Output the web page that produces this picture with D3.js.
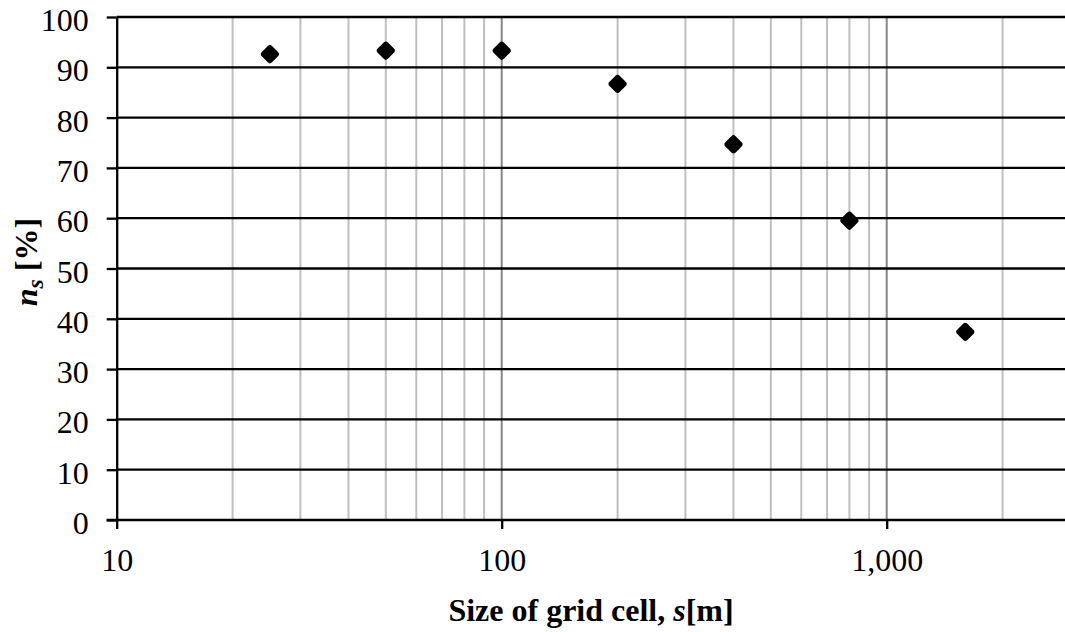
<!DOCTYPE html>
<html>
<head>
<meta charset="utf-8">
<script src="https://cdn.jsdelivr.net/npm/d3@7"></script>
<style>
  html, body { margin: 0; padding: 0; background: #fff; }
  svg { display: block; }
  text { font-family: "Liberation Serif", "Times New Roman", serif; fill: #000; }
</style>
</head>
<body>
<svg id="chart" width="1065" height="632"></svg>
<script>
// Grid cell size (m) and share n_s (%)
const cellSizes = [25, 50, 100, 200, 400, 800, 1600];
const shareValues = [92.6, 93.3, 93.3, 86.7, 74.7, 59.5, 37.4];

const yTicks = [0, 10, 20, 30, 40, 50, 60, 70, 80, 90, 100];
const xLabelTicks = [10, 100, 1000];
const xMajorGrid = [100, 1000];
const xMinorGrid = [20, 30, 40, 50, 60, 70, 80, 90, 200, 300, 400, 500, 600, 700, 800, 900, 2000];

const W = 1065, H = 632;
const plotLeft = 116.7, plotTop = 17, plotBottom = 520;
const decade = 385;

const svg = d3.select("#chart");
svg.append("rect").attr("width", W).attr("height", H).attr("fill", "#fff");

const x = d3.scaleLog()
  .domain([10, 3000])
  .range([plotLeft, plotLeft + decade * Math.log10(300)]);
const y = d3.scaleLinear().domain([0, 100]).range([plotBottom, plotTop]);

// vertical grid lines (minor light, major darker)
svg.append("g").selectAll("line").data(xMinorGrid).join("line")
  .attr("x1", d => x(d)).attr("x2", d => x(d))
  .attr("y1", plotTop).attr("y2", plotBottom)
  .attr("stroke", "#bfbfbf").attr("stroke-width", 2);
svg.append("g").selectAll("line").data(xMajorGrid).join("line")
  .attr("x1", d => x(d)).attr("x2", d => x(d))
  .attr("y1", plotTop).attr("y2", plotBottom)
  .attr("stroke", "#868686").attr("stroke-width", 2);

// horizontal grid lines
svg.append("g").selectAll("line").data(yTicks.filter(d => d > 0)).join("line")
  .attr("x1", plotLeft).attr("x2", W)
  .attr("y1", d => y(d)).attr("y2", d => y(d))
  .attr("stroke", "#000").attr("stroke-width", 2.3);

// y axis
const yAxis = svg.append("g")
  .attr("transform", `translate(${plotLeft},0)`)
  .call(d3.axisLeft(y).tickValues(yTicks).tickSize(10).tickSizeOuter(0).tickPadding(0).tickFormat(d3.format("d")));
yAxis.select(".domain").attr("stroke", "#000").attr("stroke-width", 2.3);
yAxis.selectAll(".tick line").attr("stroke", "#000").attr("stroke-width", 2.3);
yAxis.selectAll(".tick text")
  .attr("x", -28).attr("dy", 13.5)
  .attr("font-family", "'Liberation Serif', 'Times New Roman', serif")
  .attr("font-size", 32).attr("fill", "#000");

// x axis
const xAxis = svg.append("g")
  .attr("transform", `translate(0,${plotBottom})`)
  .call(d3.axisBottom(x).tickValues(xLabelTicks).tickSize(9).tickSizeOuter(0).tickFormat(d3.format(",")));
xAxis.select(".domain").attr("d", `M${plotLeft - 10},0H${W}`).attr("stroke", "#000").attr("stroke-width", 2.3);
xAxis.selectAll(".tick line").attr("stroke", "#000").attr("stroke-width", 2.3);
xAxis.selectAll(".tick text")
  .attr("y", 51).attr("dy", 0)
  .attr("font-family", "'Liberation Serif', 'Times New Roman', serif")
  .attr("font-size", 32).attr("fill", "#000");

// markers: rounded diamonds
const marker = d3.symbol().type(d3.symbolSquare).size(72);
svg.append("g").selectAll("path").data(cellSizes).join("path")
  .attr("d", marker)
  .attr("transform", (d, i) => `translate(${x(d)},${y(shareValues[i])}) rotate(45)`)
  .attr("fill", "#000").attr("stroke", "#000")
  .attr("stroke-width", 6).attr("stroke-linejoin", "round");

// axis titles
const xt = svg.append("text")
  .attr("x", 591).attr("y", 621)
  .attr("text-anchor", "middle")
  .attr("font-size", 32).attr("font-weight", "bold");
xt.append("tspan").text("Size of grid cell, ");
xt.append("tspan").attr("font-style", "italic").text("s");
xt.append("tspan").text("[m]");

const yt = svg.append("text")
  .attr("transform", "translate(37,262) rotate(-90)")
  .attr("text-anchor", "middle")
  .attr("font-size", 32).attr("font-weight", "bold");
yt.append("tspan").attr("font-style", "italic").text("n");
yt.append("tspan").attr("font-style", "italic").attr("font-size", 24).attr("dy", 6).text("s");
yt.append("tspan").attr("dy", -6).text(" [%]");
</script>
</body>
</html>
